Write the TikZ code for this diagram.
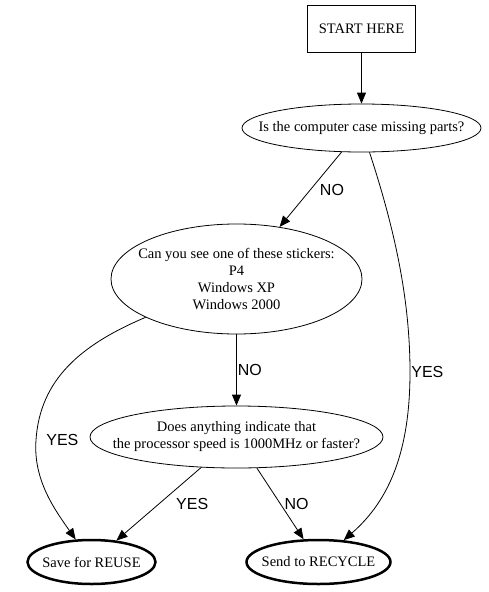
\documentclass[tikz,border=0pt]{standalone}
\usepackage{fontspec}
\setmainfont{Liberation Serif}
\newfontfamily\lblfont{Liberation Sans}
\usetikzlibrary{shapes.geometric,arrows.meta}
\begin{document}
\begin{tikzpicture}[x=1pt, y=-1pt]
    % Styles
    \tikzstyle{startbox} = [rectangle, draw=black, line width=0.8pt, minimum width=108pt, minimum height=47pt, font=\fontsize{14.5}{17}\selectfont]
    \tikzstyle{question} = [ellipse, draw=black, line width=0.8pt, inner xsep=-25pt, inner ysep=0pt, align=center, font=\fontsize{14.5}{17}\selectfont]
    \tikzstyle{result} = [ellipse, draw=black, line width=2.5pt, inner xsep=-25pt, inner ysep=0pt, font=\fontsize{14.5}{17}\selectfont]
    \tikzstyle{arrow} = [line width=0.8pt, -{Triangle[length=11pt, width=9pt]}]
    \tikzstyle{answer} = [font=\lblfont\fontsize{16}{19}\selectfont, inner sep=0pt]

    \useasboundingbox (0,0) rectangle (488,592);

    % Nodes
    \node (start) [startbox] at (361.5,29) {START HERE};
    \node (case) [question, minimum width=239pt, minimum height=48pt] at (361.5,128) {Is the computer case missing parts?};
    \node (stickers) [question, minimum width=251pt, minimum height=110pt] at (236.5,279) {Can you see one of these stickers:\\P4\\Windows XP\\Windows 2000};
    \node (speed) [question, minimum width=293pt, minimum height=62pt] at (236.5,437) {Does anything indicate that\\the processor speed is 1000MHz or faster?};
    \node (reuse) [result, minimum width=128pt, minimum height=44pt] at (91.5,562) {Save for REUSE};
    \node (recycle) [result, minimum width=144pt, minimum height=44pt] at (318.5,562) {Send to RECYCLE};

    % Arrows
    \draw [arrow] (start) -- (case);
    \draw [arrow] (case) -- (stickers) node[answer, pos=0.5, right=9pt] (no1) {NO};
    \draw [arrow] (case) .. controls (395,230) and (410,300) .. (410,372) node[answer, right=1pt] (yes1) {YES} .. controls (410,450) and (390,500) .. (recycle);
    \draw [arrow] (stickers) -- (speed) node[answer, pos=0.5, right=1pt] (no2) {NO};
    \draw [arrow] (stickers) .. controls (80,345) and (40,380) .. (36,440) node[answer, right=10pt] (yes2) {YES} .. controls (33,480) and (55,510) .. (reuse);
    \draw [arrow] (speed) -- (reuse) node[answer, pos=0.5, right=17pt] (yes3) {YES};
    \draw [arrow] (speed) -- (recycle) node[answer, pos=0.5, right=4pt] (no3) {NO};
\end{tikzpicture}
\end{document}
